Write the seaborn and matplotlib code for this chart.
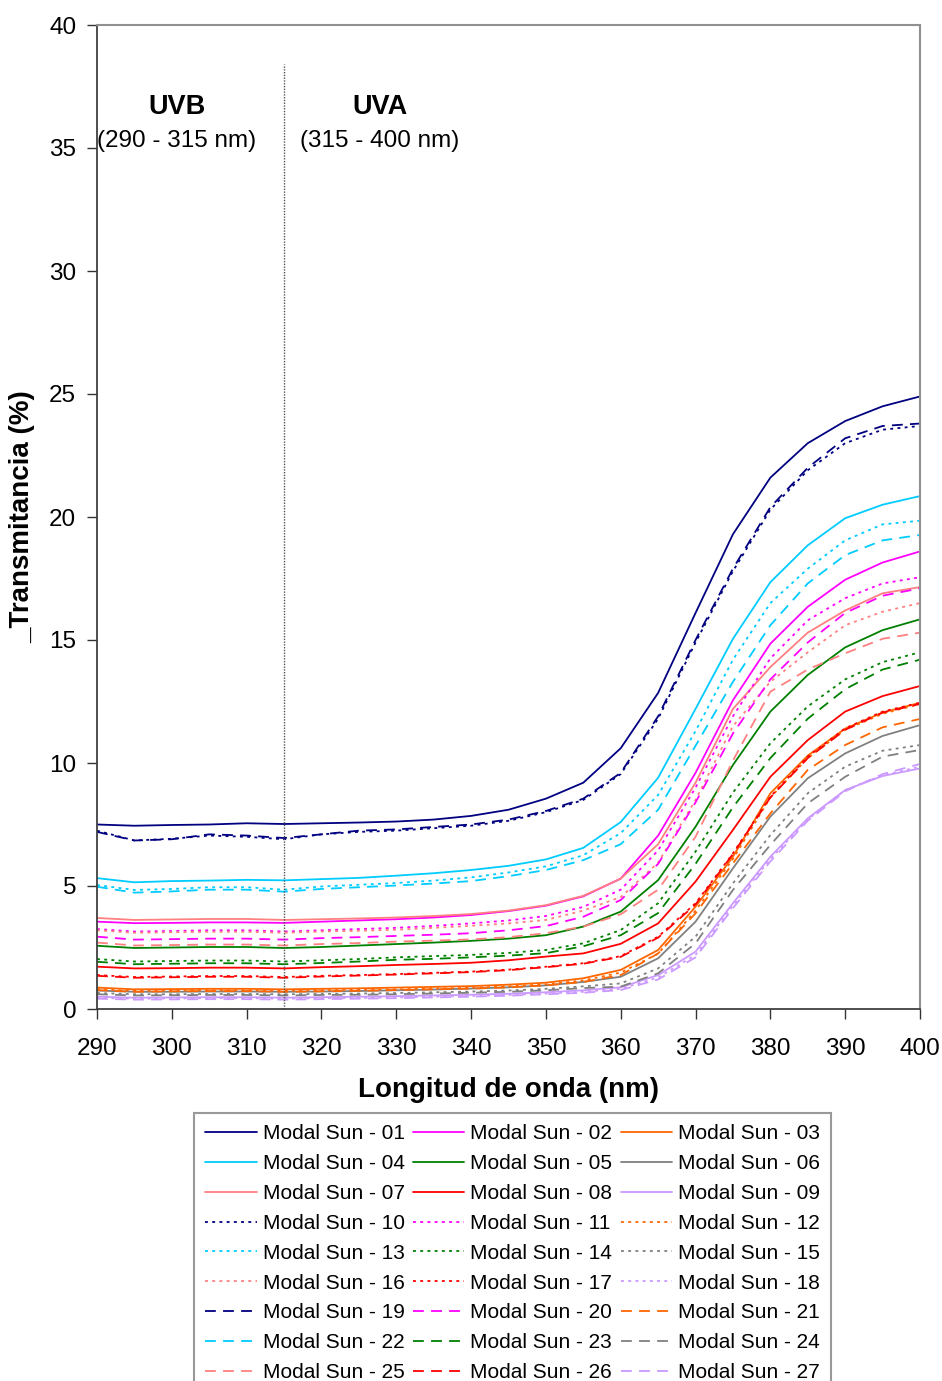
import matplotlib
matplotlib.use("Agg")
import matplotlib.pyplot as plt
import seaborn as sns
import pandas as pd

sns.set_theme(style="white")
plt.rcParams['font.family'] = ['Liberation Sans', 'DejaVu Sans']
plt.rcParams['text.color'] = 'black'
plt.rcParams['axes.labelcolor'] = 'black'

wavelengths = [290, 295, 300, 305, 310, 315, 320, 325, 330, 335, 340, 345,
               350, 355, 360, 365, 370, 375, 380, 385, 390, 395, 400]

s01 = [7.50, 7.45, 7.48, 7.50, 7.55, 7.52, 7.55, 7.58, 7.62, 7.70, 7.85, 8.10, 8.55, 9.20, 10.6, 12.85, 16.1, 19.3, 21.6, 23.0, 23.9, 24.5, 24.9]
s02 = [3.55, 3.49, 3.50, 3.52, 3.52, 3.50, 3.55, 3.60, 3.65, 3.72, 3.82, 3.98, 4.20, 4.58, 5.30, 7.05, 9.6, 12.55, 14.85, 16.35, 17.45, 18.15, 18.6]
s03 = [0.87, 0.80, 0.81, 0.82, 0.82, 0.80, 0.82, 0.84, 0.87, 0.90, 0.93, 0.99, 1.07, 1.25, 1.59, 2.40, 4.16, 6.19, 8.77, 10.3, 11.4, 12.05, 12.45]
s04 = [5.32, 5.15, 5.20, 5.22, 5.25, 5.23, 5.28, 5.33, 5.42, 5.52, 5.65, 5.82, 6.08, 6.55, 7.6, 9.4, 12.2, 15.05, 17.35, 18.85, 19.95, 20.5, 20.85]
s05 = [2.57, 2.48, 2.50, 2.52, 2.52, 2.48, 2.52, 2.58, 2.64, 2.70, 2.77, 2.86, 3.00, 3.35, 3.96, 5.24, 7.41, 9.92, 12.09, 13.58, 14.7, 15.4, 15.84]
s06 = [0.75, 0.70, 0.70, 0.71, 0.71, 0.70, 0.71, 0.73, 0.76, 0.79, 0.83, 0.88, 0.96, 1.10, 1.31, 2.06, 3.55, 5.72, 7.82, 9.38, 10.39, 11.1, 11.54]
s07 = [3.70, 3.62, 3.64, 3.66, 3.66, 3.62, 3.65, 3.68, 3.72, 3.78, 3.86, 4.00, 4.22, 4.60, 5.30, 6.70, 9.2, 12.2, 13.9, 15.3, 16.2, 16.9, 17.15]
s08 = [1.72, 1.65, 1.66, 1.68, 1.68, 1.65, 1.70, 1.74, 1.79, 1.83, 1.88, 1.98, 2.13, 2.26, 2.65, 3.48, 5.18, 7.28, 9.44, 10.93, 12.09, 12.72, 13.13]
s09 = [0.50, 0.46, 0.47, 0.48, 0.48, 0.46, 0.48, 0.50, 0.52, 0.55, 0.58, 0.62, 0.68, 0.76, 0.88, 1.38, 2.33, 4.30, 6.19, 7.75, 8.9, 9.47, 9.78]
s10 = [7.25, 6.85, 6.92, 7.05, 7.00, 6.90, 7.10, 7.20, 7.25, 7.35, 7.45, 7.65, 8.00, 8.50, 9.55, 11.8, 14.9, 17.8, 20.3, 21.9, 23.0, 23.55, 23.7]
s11 = [3.25, 3.15, 3.17, 3.20, 3.20, 3.15, 3.20, 3.25, 3.30, 3.38, 3.48, 3.60, 3.78, 4.15, 4.85, 6.45, 9.0, 11.9, 14.25, 15.8, 16.7, 17.3, 17.55]
s12 = [0.80, 0.74, 0.75, 0.76, 0.76, 0.74, 0.76, 0.78, 0.80, 0.83, 0.86, 0.92, 1.00, 1.16, 1.48, 2.25, 4.0, 6.1, 8.6, 10.2, 11.35, 12.0, 12.4]
s13 = [5.04, 4.84, 4.88, 4.95, 4.95, 4.85, 4.98, 5.05, 5.12, 5.22, 5.35, 5.55, 5.80, 6.25, 7.15, 8.7, 11.3, 14.2, 16.5, 17.9, 19.05, 19.7, 19.85]
s14 = [2.03, 1.93, 1.95, 1.97, 1.97, 1.93, 1.98, 2.03, 2.10, 2.15, 2.20, 2.28, 2.40, 2.67, 3.21, 4.3, 6.4, 8.8, 10.8, 12.3, 13.4, 14.1, 14.5]
s15 = [0.65, 0.60, 0.60, 0.61, 0.61, 0.60, 0.61, 0.63, 0.65, 0.68, 0.71, 0.75, 0.82, 0.92, 1.04, 1.65, 2.94, 5.11, 7.07, 8.77, 9.85, 10.5, 10.73]
s16 = [3.20, 3.10, 3.12, 3.14, 3.14, 3.10, 3.15, 3.18, 3.22, 3.30, 3.38, 3.48, 3.62, 4.00, 4.55, 5.95, 8.5, 11.5, 13.3, 14.5, 15.6, 16.15, 16.5]
s17 = [1.38, 1.30, 1.32, 1.34, 1.34, 1.30, 1.35, 1.38, 1.42, 1.47, 1.52, 1.60, 1.72, 1.86, 2.15, 2.94, 4.3, 6.33, 8.63, 10.26, 11.41, 12.09, 12.45]
s18 = [0.45, 0.42, 0.43, 0.44, 0.44, 0.42, 0.44, 0.45, 0.47, 0.50, 0.53, 0.57, 0.63, 0.70, 0.82, 1.28, 2.2, 4.2, 6.1, 7.7, 8.9, 9.5, 9.85]
s19 = [7.20, 6.85, 6.90, 7.10, 7.05, 6.95, 7.10, 7.25, 7.30, 7.40, 7.50, 7.70, 8.05, 8.55, 9.6, 11.9, 15.0, 17.9, 20.4, 22.0, 23.2, 23.7, 23.8]
s20 = [2.94, 2.82, 2.84, 2.86, 2.86, 2.82, 2.88, 2.92, 2.97, 3.02, 3.08, 3.20, 3.37, 3.75, 4.43, 5.9, 8.4, 11.2, 13.4, 14.9, 16.1, 16.8, 17.1]
s21 = [0.77, 0.70, 0.72, 0.73, 0.73, 0.70, 0.72, 0.74, 0.77, 0.80, 0.83, 0.88, 0.96, 1.10, 1.38, 2.26, 3.89, 5.92, 7.95, 9.72, 10.73, 11.45, 11.79]
s22 = [4.97, 4.73, 4.78, 4.85, 4.85, 4.77, 4.88, 4.95, 5.02, 5.10, 5.20, 5.40, 5.65, 6.05, 6.7, 8.1, 10.7, 13.3, 15.6, 17.3, 18.45, 19.05, 19.27]
s23 = [1.92, 1.82, 1.84, 1.86, 1.86, 1.82, 1.87, 1.93, 2.00, 2.04, 2.10, 2.17, 2.27, 2.55, 3.00, 3.9, 5.9, 8.2, 10.2, 11.8, 13.0, 13.8, 14.2]
s24 = [0.60, 0.55, 0.56, 0.57, 0.57, 0.55, 0.57, 0.58, 0.60, 0.63, 0.66, 0.70, 0.76, 0.85, 0.91, 1.45, 2.67, 4.84, 6.67, 8.36, 9.44, 10.26, 10.53]
s25 = [2.70, 2.58, 2.60, 2.62, 2.62, 2.58, 2.64, 2.68, 2.74, 2.78, 2.83, 2.92, 3.08, 3.35, 3.85, 4.85, 7.0, 10.1, 12.9, 13.8, 14.46, 15.05, 15.3]
s26 = [1.35, 1.27, 1.29, 1.31, 1.31, 1.27, 1.32, 1.36, 1.40, 1.45, 1.50, 1.58, 1.70, 1.84, 2.12, 2.90, 4.25, 6.3, 8.6, 10.2, 11.35, 12.05, 12.4]
s27 = [0.42, 0.38, 0.39, 0.40, 0.40, 0.38, 0.40, 0.42, 0.44, 0.47, 0.50, 0.54, 0.60, 0.66, 0.77, 1.20, 2.1, 4.1, 6.0, 7.65, 8.85, 9.55, 9.96]

series_values = [s01, s02, s03, s04, s05, s06, s07, s08, s09,
                 s10, s11, s12, s13, s14, s15, s16, s17, s18,
                 s19, s20, s21, s22, s23, s24, s25, s26, s27]
series_names = [f"Modal Sun - {i:02d}" for i in range(1, 28)]
base_colors = ['#000080', '#FF00FF', '#FF6600', '#00CCFF', '#008000',
               '#808080', '#FF8080', '#FF0000', '#CC99FF']
styles = ['solid', 'dotted', 'dashed']
x_ticks = [290, 300, 310, 320, 330, 340, 350, 360, 370, 380, 390, 400]
y_ticks = [0, 5, 10, 15, 20, 25, 30, 35, 40]

dash_map = {'solid': '', 'dotted': (1.6, 2.4), 'dashed': (6, 4)}

rows = []
for name, vals in zip(series_names, series_values):
    for w, v in zip(wavelengths, vals):
        rows.append({'Longitud': w, 'Trans': v, 'Serie': name})
df = pd.DataFrame(rows)

palette = {}
dashes = {}
for i, name in enumerate(series_names):
    palette[name] = base_colors[i % 9]
    dashes[name] = dash_map[styles[i // 9]]

fig = plt.figure(figsize=(9.42, 13.81), dpi=100)
ax = fig.add_axes([97 / 942, 1 - 1009 / 1381, (920 - 97) / 942, (1009 - 25) / 1381])

sns.lineplot(data=df, x='Longitud', y='Trans', hue='Serie', style='Serie',
             palette=palette, dashes=dashes, hue_order=series_names,
             style_order=series_names, linewidth=1.3, legend=False, ax=ax,
             sort=False)

ax.set_xlim(290, 400)
ax.set_ylim(0, 40)
ax.set_xticks(x_ticks)
ax.set_yticks(y_ticks)
ax.tick_params(axis='both', which='major', direction='out', length=7, width=1,
               color='#333333', labelsize=17.5, labelcolor='black')
ax.tick_params(axis='x', pad=14)
ax.tick_params(axis='y', pad=8)
ax.tick_params(bottom=True, left=True)
for side in ['left', 'bottom']:
    ax.spines[side].set_color('#404040')
    ax.spines[side].set_linewidth(1.3)
for side in ['top', 'right']:
    ax.spines[side].set_color('#909090')
    ax.spines[side].set_linewidth(1.5)
ax.grid(False)

ax.set_xlabel('Longitud de onda (nm)', fontsize=20, fontweight='bold', labelpad=12)
ax.set_ylabel('_Transmitancia (%)', fontsize=20, fontweight='bold', labelpad=10)

ax.axvline(315, ymin=0, ymax=38.4 / 40, color='#555555', linestyle=(0, (1, 1)), linewidth=1)

ax.text(300.7, 36.65, 'UVB', ha='center', va='center', fontsize=19.5, fontweight='bold')
ax.text(300.7, 35.3, '(290 - 315 nm)', ha='center', va='center', fontsize=17.5)
ax.text(327.8, 36.65, 'UVA', ha='center', va='center', fontsize=19.5, fontweight='bold')
ax.text(327.8, 35.3, '(315 - 400 nm)', ha='center', va='center', fontsize=17.5)

lines = ax.get_lines()[:27]
order = []
for c in range(3):
    for r in range(9):
        order.append(r * 3 + c)
handles = [lines[i] for i in order]
labels = [series_names[i] for i in order]
leg = fig.legend(handles, labels, loc='upper left',
                 bbox_to_anchor=(194 / 942, 1 - 1113 / 1381), ncol=3,
                 fontsize=15, frameon=True, fancybox=False, edgecolor='#808080',
                 handlelength=2.45, handletextpad=0.3, columnspacing=0.4,
                 labelspacing=0.52, borderpad=0.55, borderaxespad=0)
leg.get_frame().set_linewidth(1.5)

fig.savefig('out.png', dpi=100)
